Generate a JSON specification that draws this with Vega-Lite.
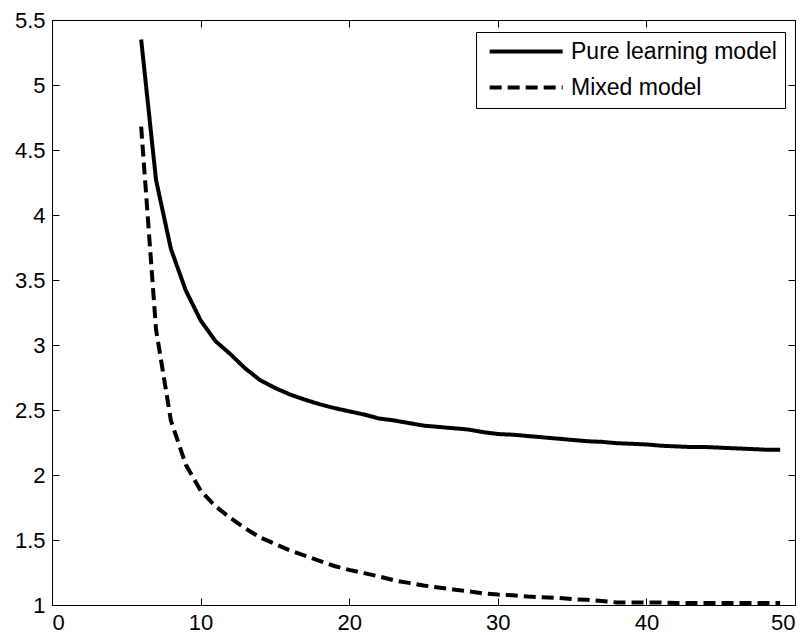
{
  "$schema": "https://vega.github.io/schema/vega-lite/v6.json",
  "width": 743,
  "height": 585,
  "autosize": {"type": "none"},
  "padding": {"left": 52, "top": 20, "right": 16, "bottom": 30},
  "background": "white",
  "config": {
    "view": {"stroke": null},
    "axis": {
      "grid": false,
      "domainColor": "black",
      "domainWidth": 1,
      "tickColor": "black",
      "tickWidth": 1,
      "tickSize": -7,
      "labelFont": "Liberation Sans",
      "labelFontSize": 22,
      "labelColor": "black",
      "title": null
    }
  },
  "data": {
    "values": [
      {"x": 6, "value": 5.35, "model": "Pure learning model"},
      {"x": 7, "value": 4.27, "model": "Pure learning model"},
      {"x": 8, "value": 3.74, "model": "Pure learning model"},
      {"x": 9, "value": 3.42, "model": "Pure learning model"},
      {"x": 10, "value": 3.19, "model": "Pure learning model"},
      {"x": 11, "value": 3.03, "model": "Pure learning model"},
      {"x": 12, "value": 2.93, "model": "Pure learning model"},
      {"x": 13, "value": 2.82, "model": "Pure learning model"},
      {"x": 14, "value": 2.73, "model": "Pure learning model"},
      {"x": 15, "value": 2.67, "model": "Pure learning model"},
      {"x": 16, "value": 2.62, "model": "Pure learning model"},
      {"x": 17, "value": 2.58, "model": "Pure learning model"},
      {"x": 18, "value": 2.545, "model": "Pure learning model"},
      {"x": 19, "value": 2.515, "model": "Pure learning model"},
      {"x": 20, "value": 2.49, "model": "Pure learning model"},
      {"x": 21, "value": 2.465, "model": "Pure learning model"},
      {"x": 22, "value": 2.435, "model": "Pure learning model"},
      {"x": 23, "value": 2.42, "model": "Pure learning model"},
      {"x": 24, "value": 2.4, "model": "Pure learning model"},
      {"x": 25, "value": 2.38, "model": "Pure learning model"},
      {"x": 26, "value": 2.37, "model": "Pure learning model"},
      {"x": 27, "value": 2.36, "model": "Pure learning model"},
      {"x": 28, "value": 2.35, "model": "Pure learning model"},
      {"x": 29, "value": 2.33, "model": "Pure learning model"},
      {"x": 30, "value": 2.315, "model": "Pure learning model"},
      {"x": 31, "value": 2.31, "model": "Pure learning model"},
      {"x": 32, "value": 2.3, "model": "Pure learning model"},
      {"x": 33, "value": 2.29, "model": "Pure learning model"},
      {"x": 34, "value": 2.28, "model": "Pure learning model"},
      {"x": 35, "value": 2.27, "model": "Pure learning model"},
      {"x": 36, "value": 2.26, "model": "Pure learning model"},
      {"x": 37, "value": 2.255, "model": "Pure learning model"},
      {"x": 38, "value": 2.245, "model": "Pure learning model"},
      {"x": 39, "value": 2.24, "model": "Pure learning model"},
      {"x": 40, "value": 2.235, "model": "Pure learning model"},
      {"x": 41, "value": 2.225, "model": "Pure learning model"},
      {"x": 42, "value": 2.22, "model": "Pure learning model"},
      {"x": 43, "value": 2.215, "model": "Pure learning model"},
      {"x": 44, "value": 2.215, "model": "Pure learning model"},
      {"x": 45, "value": 2.21, "model": "Pure learning model"},
      {"x": 46, "value": 2.205, "model": "Pure learning model"},
      {"x": 47, "value": 2.2, "model": "Pure learning model"},
      {"x": 48, "value": 2.195, "model": "Pure learning model"},
      {"x": 49, "value": 2.195, "model": "Pure learning model"},
      {"x": 6, "value": 4.68, "model": "Mixed model"},
      {"x": 7, "value": 3.12, "model": "Mixed model"},
      {"x": 8, "value": 2.42, "model": "Mixed model"},
      {"x": 9, "value": 2.08, "model": "Mixed model"},
      {"x": 10, "value": 1.88, "model": "Mixed model"},
      {"x": 11, "value": 1.76, "model": "Mixed model"},
      {"x": 12, "value": 1.67, "model": "Mixed model"},
      {"x": 13, "value": 1.59, "model": "Mixed model"},
      {"x": 14, "value": 1.52, "model": "Mixed model"},
      {"x": 15, "value": 1.47, "model": "Mixed model"},
      {"x": 16, "value": 1.42, "model": "Mixed model"},
      {"x": 17, "value": 1.38, "model": "Mixed model"},
      {"x": 18, "value": 1.34, "model": "Mixed model"},
      {"x": 19, "value": 1.3, "model": "Mixed model"},
      {"x": 20, "value": 1.27, "model": "Mixed model"},
      {"x": 21, "value": 1.245, "model": "Mixed model"},
      {"x": 22, "value": 1.22, "model": "Mixed model"},
      {"x": 23, "value": 1.19, "model": "Mixed model"},
      {"x": 24, "value": 1.17, "model": "Mixed model"},
      {"x": 25, "value": 1.15, "model": "Mixed model"},
      {"x": 26, "value": 1.135, "model": "Mixed model"},
      {"x": 27, "value": 1.12, "model": "Mixed model"},
      {"x": 28, "value": 1.105, "model": "Mixed model"},
      {"x": 29, "value": 1.09, "model": "Mixed model"},
      {"x": 30, "value": 1.08, "model": "Mixed model"},
      {"x": 31, "value": 1.075, "model": "Mixed model"},
      {"x": 32, "value": 1.065, "model": "Mixed model"},
      {"x": 33, "value": 1.06, "model": "Mixed model"},
      {"x": 34, "value": 1.055, "model": "Mixed model"},
      {"x": 35, "value": 1.045, "model": "Mixed model"},
      {"x": 36, "value": 1.04, "model": "Mixed model"},
      {"x": 37, "value": 1.03, "model": "Mixed model"},
      {"x": 38, "value": 1.02, "model": "Mixed model"},
      {"x": 39, "value": 1.02, "model": "Mixed model"},
      {"x": 40, "value": 1.02, "model": "Mixed model"},
      {"x": 41, "value": 1.02, "model": "Mixed model"},
      {"x": 42, "value": 1.015, "model": "Mixed model"},
      {"x": 43, "value": 1.015, "model": "Mixed model"},
      {"x": 44, "value": 1.015, "model": "Mixed model"},
      {"x": 45, "value": 1.015, "model": "Mixed model"},
      {"x": 46, "value": 1.015, "model": "Mixed model"},
      {"x": 47, "value": 1.015, "model": "Mixed model"},
      {"x": 48, "value": 1.015, "model": "Mixed model"},
      {"x": 49, "value": 1.015, "model": "Mixed model"}
    ]
  },
  "layer": [
    {
      "mark": {"type": "line", "color": "black", "strokeWidth": 4, "strokeCap": "butt"},
      "encoding": {
        "x": {
          "field": "x", "type": "quantitative",
          "scale": {"domain": [0, 50], "nice": false, "zero": false},
          "axis": {"orient": "bottom", "values": [0, 10, 20, 30, 40, 50], "labelPadding": 14, "format": "d"}
        },
        "y": {
          "field": "value", "type": "quantitative",
          "scale": {"domain": [1, 5.5], "nice": false, "zero": false},
          "axis": {"orient": "left", "values": [1, 1.5, 2, 2.5, 3, 3.5, 4, 4.5, 5, 5.5], "labelPadding": 14, "format": "~g"}
        },
        "strokeDash": {
          "field": "model", "type": "nominal",
          "scale": {"domain": ["Pure learning model", "Mixed model"], "range": [[1, 0], [12, 6]]},
          "legend": {
            "title": null,
            "orient": "none",
            "legendX": 424,
            "legendY": 12,
            "strokeColor": "black",
            "fillColor": "white",
            "padding": 8,
            "symbolType": "M-1.6,0H18.4",
            "symbolSize": 53.3,
            "symbolStrokeWidth": 4,
            "symbolStrokeColor": "black",
            "labelFont": "Liberation Sans",
            "labelFontSize": 23,
            "labelColor": "black",
            "labelLimit": 0,
            "labelOffset": 64,
            "rowPadding": 12
          }
        }
      }
    },
    {
      "mark": {"type": "line", "opacity": 0},
      "encoding": {
        "x": {
          "field": "x", "type": "quantitative",
          "axis": {"orient": "top", "values": [0, 10, 20, 30, 40, 50], "labels": false}
        },
        "y": {
          "field": "value", "type": "quantitative",
          "axis": {"orient": "right", "values": [1, 1.5, 2, 2.5, 3, 3.5, 4, 4.5, 5, 5.5], "labels": false}
        }
      }
    }
  ],
  "resolve": {"axis": {"x": "independent", "y": "independent"}}
}
